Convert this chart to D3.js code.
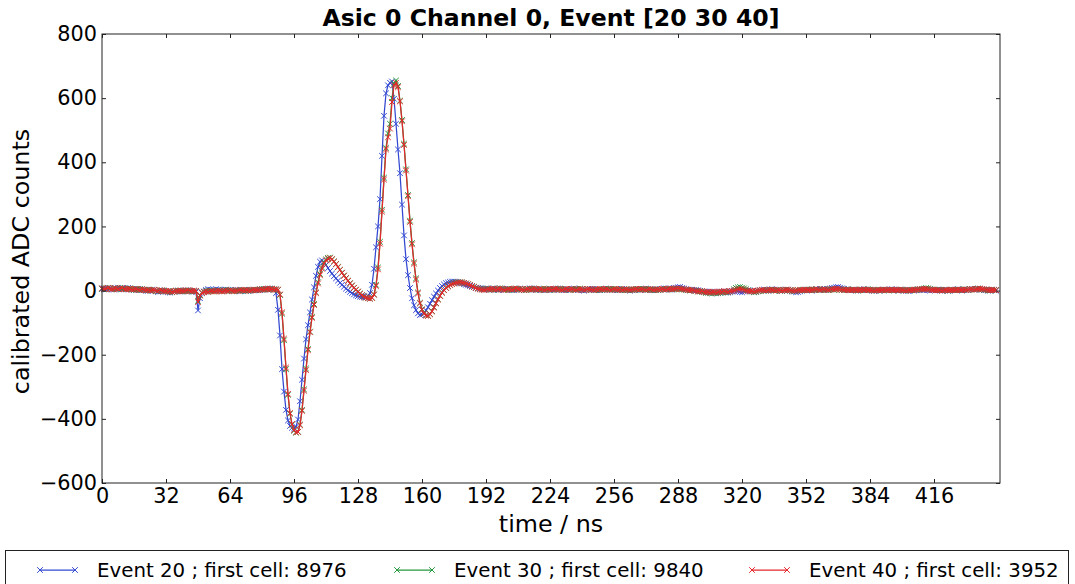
<!DOCTYPE html>
<html>
<head>
<meta charset="utf-8">
<script src="https://cdn.jsdelivr.net/npm/d3@7"></script>
<style>
  body { margin: 0; background: #ffffff; }
  svg text { font-family: "DejaVu Sans", sans-serif; fill: #000; }
</style>
</head>
<body>
<svg id="chart" width="1075" height="584"></svg>
<script>
// ---- data -------------------------------------------------------------
// One sample per ns; index = time in ns.
const timeTicks = [0, 32, 64, 96, 128, 160, 192, 224, 256, 288, 320, 352, 384, 416];
const countTicks = [-600, -400, -200, 0, 200, 400, 600, 800];
const seriesLabels = [
  "Event 20 ; first cell: 8976",
  "Event 30 ; first cell: 9840",
  "Event 40 ; first cell: 3952"
];
const seriesColors = ["#3349d2", "#25983e", "#e4282d"];

// calibrated ADC counts, event 20
const event20 = [
  5, 7, 4, 6, 8, 5, 3, 6, 9, 7, 5, 4, 6, 8, 6, 3, 2, 4, 5, 3, 1, 2, 0, -1, 1, 3, 2, -2, -4, -3, -1, 0,
  -2, -5, -6, -4, -3, -1, 0, -2, -3, -1, 1, 0, -1, -3, -2, -4, -62, -24, -8, -3, 2, 4, 3, 1, 2, 4, 3, 2, 0, 1, 3, 2,
  1, -1, 0, 2, 1, -2, 0, 1, -1, 0, 2, 1, 0, 1, 3, 2, 4, 3, 5, 4, 6, 5, 3, -8, -60, -140, -245, -315, -372, -405, -422, -428,
  -430, -424, -402, -345, -278, -212, -152, -108, -68, -28, 10, 46, 74, 90, 94, 89, 80, 70, 61, 53, 45, 38, 31, 24, 18, 12, 6, 1, -4, -8, -12, -15,
  -17, -19, -20, -21, -20, -16, -8, 18, 68, 135, 200, 285, 420, 545, 615, 640, 648, 652, 598, 520, 440, 366, 268, 172, 98, 48, 8, -24, -46, -61, -71, -76,
  -75, -70, -62, -52, -41, -30, -19, -9, 0, 8, 14, 19, 23, 25, 27, 28, 28, 27, 26, 24, 22, 20, 18, 16, 14, 12, 11, 9, 8, 7, 6, 5,
  6, 4, 3, 5, 7, 5, 2, 3, 6, 4, 3, 5, 4, 2, 1, 3, 5, 6, 4, 2, 3, 5, 7, 6, 3, 2, 4, 5, 3, 1, 2, 4,
  5, 3, 2, 4, 6, 5, 3, 1, 2, 4, 3, 5, 6, 4, 2, 3, 1, 0, 2, 4, 3, 5, 4, 2, 3, 1, 2, 4, 6, 5, 3, 2,
  4, 3, 1, 2, 5, 4, 3, 2, 0, 1, 3, 5, 4, 2, 3, 5, 6, 4, 2, 1, 3, 4, 2, 3, 5, 7, 6, 4, 3, 5, 8, 9,
  10, 11, 8, 6, 4, 3, 2, 1, 0, 2, 1, -1, -2, -3, -5, -6, -4, -3, -6, -8, -7, -5, -3, -2, -4, -6, -5, -3, -1, 0, -2, -4,
  -5, -3, -1, 1, 0, -2, -4, -3, -1, 1, 2, 3, 1, 0, 2, 4, 3, 1, 2, 0, -1, 1, 3, 2, 0, -2, -3, -5, -4, -2, 0, 1,
  2, 3, 1, 0, 2, 4, 3, 5, 4, 2, 3, 5, 6, 8, 9, 10, 11, 9, 7, 5, 3, 2, 1, 3, 2, 0, 1, 3, 2, 4, 3, 1,
  2, 0, -1, 1, 2, 0, 1, 3, 2, 1, 3, 4, 2, 1, 0, 2, 3, 1, 0, -1, 1, 2, 0, 1, 3, 4, 2, 1, 3, 2, 0, 1,
  3, 2, 1, 0, 2, 3, 1, -1, 0, 2, 1, 3, 4, 2, 0, 1, 2, 3, 5, 4, 3, 5, 6, 4, 3, 1, 2, 0, 1, 3, 2, 0
];

// calibrated ADC counts, event 30
const event30 = [
  6, 4, 7, 9, 6, 5, 7, 4, 5, 8, 6, 7, 5, 4, 7, 5, 4, 2, 3, 5, 4, 2, 1, 3, 2, 0, 1, -1, -2, 0, 1, -1,
  -3, -2, -4, -5, -2, 0, -1, -3, -2, 0, -1, -2, 0, -2, -3, -1, -32, -14, -6, -4, -2, 0, -1, -3, -2, 0, 1, -1, -2, 0, 2, 1,
  0, -2, -1, 1, 0, -1, 1, 2, 0, -1, 1, 2, 3, 1, 2, 4, 3, 5, 4, 3, 5, 6, 4, 3, 2, -14, -72, -155, -245, -325, -384, -418,
  -437, -443, -440, -418, -372, -308, -243, -182, -128, -82, -42, -6, 26, 52, 72, 88, 97, 102, 103, 98, 91, 83, 74, 65, 56, 47, 39, 31, 23, 16, 9, 3,
  -3, -9, -14, -18, -22, -24, -25, -22, -12, 18, 72, 152, 252, 352, 445, 490, 520, 600, 645, 655, 638, 592, 532, 458, 378, 298, 218, 148, 88, 38, -6, -38,
  -58, -71, -77, -78, -73, -64, -52, -39, -27, -16, -6, 2, 9, 14, 18, 21, 23, 25, 26, 26, 25, 24, 22, 20, 17, 14, 12, 9, 7, 5, 4, 3,
  4, 6, 5, 3, 2, 4, 6, 7, 5, 3, 4, 2, 3, 5, 6, 4, 3, 5, 4, 2, 1, 3, 5, 4, 6, 5, 3, 2, 4, 6, 5, 3,
  2, 4, 5, 3, 4, 6, 4, 3, 5, 3, 2, 4, 3, 5, 4, 6, 5, 3, 2, 4, 5, 3, 1, 3, 4, 2, 3, 5, 4, 3, 5, 4,
  3, 5, 4, 2, 3, 4, 2, 1, 3, 4, 2, 3, 5, 4, 3, 5, 4, 3, 2, 4, 3, 1, 2, 4, 5, 3, 4, 6, 5, 3, 4, 5,
  6, 5, 3, 4, 2, 1, 0, 2, 1, -1, -3, -2, -4, -5, -7, -6, -8, -9, -7, -6, -8, -7, -5, -4, -6, -5, -3, -1, 4, 8, 10, 11,
  9, 7, 4, 1, -1, -3, -5, -4, -2, 0, 1, -1, 0, 2, 3, 1, 0, 2, 1, -1, 0, 2, 3, 1, 0, -2, -1, 1, 2, 0, 1, 3,
  2, 1, 3, 4, 2, 1, 3, 2, 4, 3, 1, 2, 4, 3, 2, 4, 5, 3, 2, 1, 3, 4, 2, 1, 3, 2, 0, 2, 3, 1, 2, 4,
  3, 1, 2, 0, 1, 3, 2, 0, 1, 2, 3, 1, 0, 2, 1, 3, 2, 0, 1, 2, 0, 1, 3, 2, 4, 3, 5, 6, 8, 7, 5, 3,
  2, 1, 3, 2, 0, 1, 2, 0, 1, 3, 2, 1, 2, 3, 2, 4, 3, 2, 4, 5, 3, 4, 6, 5, 4, 2, 3, 1, 0, 2, 1, 2
];

// calibrated ADC counts, event 40
const event40 = [
  7, 5, 6, 8, 6, 4, 6, 7, 5, 6, 8, 5, 4, 6, 5, 3, 4, 5, 3, 2, 4, 3, 1, 2, 0, 1, 2, 0, -1, 1, 0, -2,
  -1, -3, -2, -4, -3, -1, -2, 0, -1, -2, 0, 1, -1, -2, 0, -1, -36, -16, -7, -5, -3, -4, -2, -1, -3, -2, 0, -1, -3, -2, 0, -1,
  1, 0, -2, -1, 0, 2, 1, 0, 2, 1, 0, 1, 3, 2, 1, 3, 4, 3, 5, 6, 4, 5, 3, 4, 3, -12, -68, -150, -240, -322, -382, -416,
  -435, -442, -441, -420, -375, -312, -248, -186, -130, -85, -45, -8, 22, 48, 68, 84, 94, 99, 101, 97, 90, 82, 73, 64, 55, 46, 38, 30, 22, 15, 8, 2,
  -4, -10, -15, -19, -22, -24, -25, -23, -13, 14, 66, 146, 246, 346, 440, 478, 505, 588, 640, 648, 634, 590, 528, 454, 374, 294, 214, 144, 84, 34, -9, -40,
  -60, -72, -78, -79, -74, -65, -53, -40, -28, -17, -7, 1, 8, 13, 17, 20, 22, 24, 25, 26, 25, 24, 22, 20, 17, 14, 11, 8, 6, 4, 3, 2,
  3, 5, 4, 6, 4, 3, 5, 6, 4, 2, 3, 5, 4, 3, 5, 7, 5, 4, 3, 2, 4, 5, 3, 4, 6, 4, 3, 5, 4, 2, 3, 5,
  4, 3, 5, 6, 4, 3, 2, 4, 5, 3, 4, 5, 3, 2, 4, 5, 4, 2, 3, 5, 4, 3, 2, 4, 3, 5, 4, 3, 5, 4, 2, 3,
  5, 4, 3, 4, 2, 3, 4, 3, 2, 3, 4, 5, 3, 4, 5, 3, 2, 4, 5, 3, 2, 3, 4, 3, 5, 4, 3, 5, 6, 4, 5, 6,
  7, 6, 5, 4, 3, 2, 1, 2, 0, -1, -2, -3, -2, -4, -5, -4, -6, -5, -4, -6, -5, -3, -4, -2, -3, -4, -2, -1, 0, 2, 4, 5,
  4, 2, 0, -1, -2, -1, -3, -2, 0, 1, 2, 1, 0, 1, 3, 2, 1, 0, 2, 1, 0, 1, 2, 3, 1, 0, -1, 0, 1, 2, 1, 2,
  3, 2, 1, 2, 3, 4, 3, 2, 3, 4, 3, 2, 3, 5, 4, 5, 6, 4, 3, 2, 3, 2, 1, 2, 3, 2, 1, 2, 3, 2, 3, 2,
  2, 1, 0, 1, 2, 1, 2, 3, 1, 2, 3, 2, 1, 2, 2, 3, 1, 1, 0, 1, 2, 1, 2, 3, 3, 4, 4, 5, 5, 4, 3, 2,
  2, 1, 2, 1, 0, 1, 2, 1, 2, 2, 1, 2, 3, 2, 2, 3, 2, 3, 4, 4, 3, 4, 5, 6, 5, 4, 3, 2, 1, 2, 2, 1
];

const seriesValues = [event20, event30, event40];

// ---- layout -----------------------------------------------------------
const svg = d3.select("#chart");
const plot = { left: 102, right: 1000, top: 34, bottom: 483 };
const frameColor = "#222";
const tickFont = 20.8;
const markerR = 2.8;
const traceWidth = 1.25;

const x = d3.scaleLinear().domain([0, 449]).range([plot.left, plot.right]);
const y = d3.scaleLinear().domain([-600, 800]).range([plot.bottom, plot.top]);

const fmt = d => (d < 0 ? "\u2212" + Math.abs(d) : String(d));

// ---- traces -----------------------------------------------------------
const markerPath = (cx, cy, r) =>
  `M${cx - r},${cy - r}L${cx + r},${cy + r}M${cx - r},${cy + r}L${cx + r},${cy - r}`;

const line = d3.line().x((d, i) => x(i)).y(d => y(d));

const traces = svg.append("g");
seriesValues.forEach((vals, k) => {
  const g = traces.append("g");
  g.append("path")
    .attr("d", line(vals))
    .attr("fill", "none")
    .attr("stroke", seriesColors[k])
    .attr("stroke-width", traceWidth);
  g.append("path")
    .attr("d", vals.map((v, i) => markerPath(x(i), y(v), markerR)).join(""))
    .attr("fill", "none")
    .attr("stroke", seriesColors[k])
    .attr("stroke-width", 1);
});

// ---- axes (ticks inside, on all four sides) -------------------------
function styleAxis(g, showLabels) {
  g.select(".domain").remove();
  g.selectAll(".tick line").attr("stroke", frameColor).attr("stroke-width", 1);
  g.selectAll(".tick text")
    .style("font-size", tickFont + "px")
    .attr("fill", "#000");
  if (!showLabels) g.selectAll(".tick text").remove();
}

svg.append("g")
  .attr("transform", `translate(0,${plot.bottom})`)
  .call(d3.axisBottom(x).tickValues(timeTicks).tickFormat(fmt).tickSizeInner(-4).tickSizeOuter(0).tickPadding(5))
  .call(g => styleAxis(g, true));

svg.append("g")
  .attr("transform", `translate(0,${plot.top})`)
  .call(d3.axisTop(x).tickValues(timeTicks).tickSizeInner(-4).tickSizeOuter(0))
  .call(g => styleAxis(g, false));

svg.append("g")
  .attr("transform", `translate(${plot.left},0)`)
  .call(d3.axisLeft(y).tickValues(countTicks).tickFormat(fmt).tickSizeInner(-4).tickSizeOuter(0).tickPadding(5))
  .call(g => styleAxis(g, true));

svg.append("g")
  .attr("transform", `translate(${plot.right},0)`)
  .call(d3.axisRight(y).tickValues(countTicks).tickSizeInner(-4).tickSizeOuter(0))
  .call(g => styleAxis(g, false));

// frame
svg.append("rect")
  .attr("x", plot.left).attr("y", plot.top)
  .attr("width", plot.right - plot.left).attr("height", plot.bottom - plot.top)
  .attr("fill", "none").attr("stroke", frameColor).attr("stroke-width", 1);

// ---- titles -----------------------------------------------------------
const cx = (plot.left + plot.right) / 2;
svg.append("text")
  .attr("x", cx).attr("y", 26)
  .attr("text-anchor", "middle")
  .style("font-size", "23.6px").style("font-weight", "bold")
  .text("Asic 0 Channel 0, Event [20 30 40]");

svg.append("text")
  .attr("x", cx).attr("y", 532)
  .attr("text-anchor", "middle")
  .style("font-size", "23.8px")
  .text("time / ns");

svg.append("text")
  .attr("transform", `translate(29,${(plot.top + plot.bottom) / 2 + 3}) rotate(-90)`)
  .attr("text-anchor", "middle")
  .style("font-size", "23.8px")
  .text("calibrated ADC counts");

// ---- legend -----------------------------------------------------------
const legend = svg.append("g");
legend.append("rect")
  .attr("x", 5.5).attr("y", 550.5).attr("width", 1063).attr("height", 60)
  .attr("fill", "#fff").attr("stroke", frameColor).attr("stroke-width", 1);

const legendX = [40, 397, 752];
const legendY = 570;
seriesLabels.forEach((label, k) => {
  const x0 = legendX[k], x1 = x0 + 35;
  legend.append("line")
    .attr("x1", x0).attr("x2", x1).attr("y1", legendY).attr("y2", legendY)
    .attr("stroke", seriesColors[k]).attr("stroke-width", traceWidth);
  legend.append("path")
    .attr("d", markerPath(x0, legendY, markerR) + markerPath(x1, legendY, markerR))
    .attr("fill", "none").attr("stroke", seriesColors[k]).attr("stroke-width", 1);
  legend.append("text")
    .attr("x", x1 + 22).attr("y", legendY).attr("dy", "0.36em")
    .style("font-size", "19.8px")
    .text(label);
});
</script>
</body>
</html>
